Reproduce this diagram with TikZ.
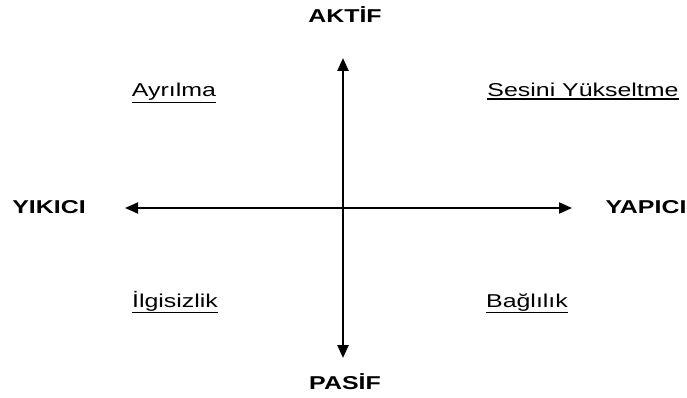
\documentclass[tikz,border=0pt]{standalone}
\usepackage{fontspec}
\setmainfont{Liberation Sans}
\newfontfamily\widesans[FakeStretch=1.34]{Liberation Sans}
\usetikzlibrary{arrows.meta}

% underline with a slightly heavier rule, set just under the descenders
\newcommand{\ulword}[1]{\setbox0=\hbox{#1}\leavevmode\vtop{\copy0\kern1pt\hrule height 1.5pt width \wd0}}

\tikzset{
  axis/.style={line width=2.4pt, {Triangle[length=13pt,width=11pt]}-{Triangle[length=13pt,width=11pt]}},
  pole/.style={anchor=base, inner sep=0pt, font=\widesans\fontsize{18.6}{20}\selectfont\bfseries},
  quad/.style={anchor=base, inner sep=0pt, font=\widesans\fontsize{18.6}{20}\selectfont}
}

\begin{document}
\begin{tikzpicture}[x=1pt, y=-1pt]
  \useasboundingbox (0,0) rectangle (687,398);

  % axis end points
  \coordinate (top) at (343,58);
  \coordinate (bottom) at (343,358);
  \coordinate (left) at (125,208);
  \coordinate (right) at (572,208);

  % the two axes
  \draw[axis] (bottom) -- (top);
  \draw[axis, line width=1.8pt] (left) -- (right);

  % pole labels
  \node[pole] (aktif)  at (345,23)  {AKTİF};
  \node[pole] (pasif)  at (345,389) {PASİF};
  \node[pole] (yikici) at (49,213)  {YIKICI};
  \node[pole] (yapici) at (646,213) {YAPICI};

  % quadrant labels
  \node[quad] (ayrilma) at (174,97)  {\ulword{Ayrılma}};
  \node[quad] (sesini)  at (583,97)  {\ulword{Sesini Yükseltme}};
  \node[quad] (ilgi)    at (175,307) {\ulword{İlgisizlik}};
  \node[quad] (bagli)   at (527,307) {\ulword{Bağlılık}};
\end{tikzpicture}
\end{document}
